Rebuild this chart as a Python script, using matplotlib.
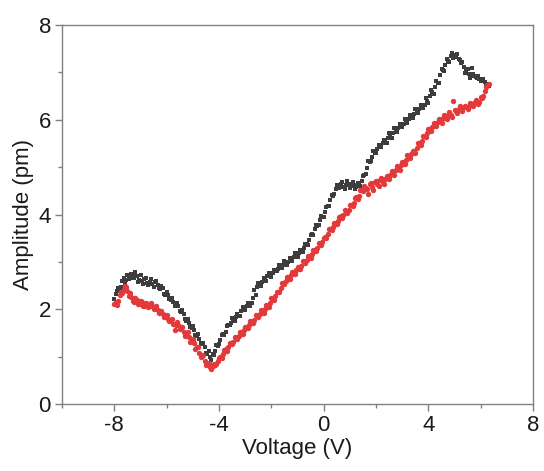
import matplotlib
matplotlib.use("Agg")
import matplotlib.pyplot as plt
from matplotlib.ticker import MultipleLocator

# Voltage sweep (V), first pass
voltage = [-8.0, -7.9, -7.8, -7.7, -7.6, -7.5, -7.4, -7.3, -7.2, -7.1,
           -7.0, -6.9, -6.8, -6.7, -6.6, -6.5, -6.4, -6.3, -6.2, -6.1,
           -6.0, -5.9, -5.8, -5.7, -5.6, -5.5, -5.4, -5.3, -5.2, -5.1,
           -5.0, -4.9, -4.8, -4.7, -4.6, -4.5, -4.4, -4.3, -4.2, -4.1,
           -4.0, -3.9, -3.8, -3.7, -3.6, -3.5, -3.4, -3.3, -3.2, -3.1,
           -3.0, -2.9, -2.8, -2.7, -2.6, -2.5, -2.4, -2.3, -2.2, -2.1,
           -2.0, -1.9, -1.8, -1.7, -1.6, -1.5, -1.4, -1.3, -1.2, -1.1,
           -1.0, -0.9, -0.8, -0.7, -0.6, -0.5, -0.4, -0.3, -0.2, -0.1,
           0.0, 0.1, 0.2, 0.3, 0.4, 0.5, 0.6, 0.7, 0.8, 0.9,
           1.0, 1.1, 1.2, 1.3, 1.4, 1.5, 1.6, 1.7, 1.8, 1.9,
           2.0, 2.1, 2.2, 2.3, 2.4, 2.5, 2.6, 2.7, 2.8, 2.9,
           3.0, 3.1, 3.2, 3.3, 3.4, 3.5, 3.6, 3.7, 3.8, 3.9,
           4.0, 4.1, 4.2, 4.3, 4.4, 4.5, 4.6, 4.7, 4.8, 4.9,
           5.0, 5.1, 5.2, 5.3, 5.4, 5.5, 5.6, 5.7, 5.8, 5.9,
           6.0, 6.1, 6.2, 6.3]

# Voltage sweep (V), second pass
voltage_b = [-7.95, -7.85, -7.75, -7.65, -7.55, -7.45, -7.35, -7.25, -7.15, -7.05,
             -6.95, -6.85, -6.75, -6.65, -6.55, -6.45, -6.35, -6.25, -6.15, -6.05,
             -5.95, -5.85, -5.75, -5.65, -5.55, -5.45, -5.35, -5.25, -5.15, -5.05,
             -4.95, -4.85, -4.75, -4.65, -4.55, -4.45, -4.35, -4.25, -4.15, -4.05,
             -3.95, -3.85, -3.75, -3.65, -3.55, -3.45, -3.35, -3.25, -3.15, -3.05,
             -2.95, -2.85, -2.75, -2.65, -2.55, -2.45, -2.35, -2.25, -2.15, -2.05,
             -1.95, -1.85, -1.75, -1.65, -1.55, -1.45, -1.35, -1.25, -1.15, -1.05,
             -0.95, -0.85, -0.75, -0.65, -0.55, -0.45, -0.35, -0.25, -0.15, -0.05,
             0.05, 0.15, 0.25, 0.35, 0.45, 0.55, 0.65, 0.75, 0.85, 0.95,
             1.05, 1.15, 1.25, 1.35, 1.45, 1.55, 1.65, 1.75, 1.85, 1.95,
             2.05, 2.15, 2.25, 2.35, 2.45, 2.55, 2.65, 2.75, 2.85, 2.95,
             3.05, 3.15, 3.25, 3.35, 3.45, 3.55, 3.65, 3.75, 3.85, 3.95,
             4.05, 4.15, 4.25, 4.35, 4.45, 4.55, 4.65, 4.75, 4.85, 4.95,
             5.05, 5.15, 5.25, 5.35, 5.45, 5.55, 5.65, 5.75, 5.85, 5.95,
             6.05, 6.15, 6.25]

# Amplitude (pm), dark series (squares)
amp_black = [2.22, 2.38, 2.42, 2.60, 2.55, 2.72, 2.66, 2.70, 2.78, 2.58,
             2.72, 2.54, 2.66, 2.52, 2.64, 2.48, 2.60, 2.45, 2.50, 2.33,
             2.36, 2.22, 2.24, 2.06, 2.14, 1.96, 1.98, 1.80, 1.80, 1.62,
             1.64, 1.46, 1.48, 1.28, 1.30, 1.08, 1.12, 0.94, 1.04, 1.24,
             1.26, 1.46, 1.45, 1.64, 1.66, 1.82, 1.76, 1.90, 1.86, 2.04,
             1.98, 2.13, 2.08, 2.24, 2.30, 2.56, 2.50, 2.66, 2.60, 2.76,
             2.68, 2.84, 2.80, 2.94, 2.88, 3.01, 2.94, 3.08, 3.03, 3.18,
             3.10, 3.26, 3.20, 3.38, 3.35, 3.56, 3.57, 3.78, 3.77, 3.96,
             3.95, 4.16, 4.17, 4.41, 4.43, 4.62, 4.55, 4.68, 4.53, 4.70,
             4.56, 4.68, 4.54, 4.67, 4.61, 4.82, 4.85, 5.12, 5.14, 5.34,
             5.30, 5.46, 5.42, 5.58, 5.52, 5.71, 5.62, 5.82, 5.74, 5.91,
             5.85, 6.02, 5.94, 6.11, 6.04, 6.22, 6.14, 6.31, 6.24, 6.45,
             6.36, 6.62, 6.55, 6.82, 6.78, 7.08, 7.02, 7.28, 7.22, 7.40,
             7.32, 7.38, 7.26, 7.22, 6.98, 7.08, 6.88, 6.97, 6.90, 6.92,
             6.82, 6.86, 6.74, 6.72]

amp_black_b = [2.32, 2.44, 2.48, 2.66, 2.62, 2.64, 2.74, 2.66, 2.70, 2.62,
               2.60, 2.64, 2.56, 2.58, 2.54, 2.58, 2.52, 2.42, 2.44, 2.30,
               2.30, 2.20, 2.16, 2.06, 2.08, 1.94, 1.90, 1.76, 1.72, 1.60,
               1.56, 1.44, 1.38, 1.26, 1.20, 1.06, 1.00, 1.06, 1.12, 1.22,
               1.36, 1.48, 1.52, 1.66, 1.72, 1.80, 1.84, 1.86, 1.96, 1.98,
               2.06, 2.12, 2.14, 2.40, 2.48, 2.54, 2.58, 2.62, 2.70, 2.70,
               2.76, 2.82, 2.86, 2.92, 2.94, 2.98, 2.99, 3.06, 3.10, 3.14,
               3.18, 3.22, 3.30, 3.38, 3.46, 3.58, 3.70, 3.76, 3.88, 3.94,
               4.06, 4.18, 4.30, 4.40, 4.54, 4.60, 4.64, 4.58, 4.62, 4.64,
               4.60, 4.62, 4.58, 4.66, 4.70, 4.84, 4.98, 5.10, 5.22, 5.30,
               5.38, 5.42, 5.50, 5.56, 5.62, 5.64, 5.72, 5.78, 5.82, 5.88,
               5.92, 5.98, 6.02, 6.08, 6.12, 6.18, 6.22, 6.28, 6.32, 6.40,
               6.50, 6.58, 6.70, 6.78, 6.94, 7.04, 7.16, 7.24, 7.34, 7.30,
               7.36, 7.28, 7.20, 7.12, 7.02, 6.96, 7.10, 6.92, 6.88, 6.86,
               6.84, 6.80, 6.76]

# Amplitude (pm), red series (circles)
amp_red = [2.12, 2.10, 2.30, 2.34, 2.50, 2.38, 2.34, 2.18, 2.24, 2.12,
           2.18, 2.08, 2.14, 2.04, 2.13, 2.00, 2.07, 1.93, 1.96, 1.83,
           1.88, 1.75, 1.80, 1.57, 1.74, 1.58, 1.63, 1.44, 1.53, 1.32,
           1.37, 1.16, 1.20, 0.99, 1.03, 0.83, 0.87, 0.74, 0.84, 0.84,
           0.98, 0.97, 1.15, 1.13, 1.29, 1.26, 1.41, 1.37, 1.52, 1.47,
           1.63, 1.60, 1.75, 1.71, 1.87, 1.83, 1.98, 1.93, 2.10, 2.05,
           2.23, 2.19, 2.36, 2.37, 2.55, 2.53, 2.69, 2.65, 2.79, 2.75,
           2.90, 2.85, 3.01, 2.97, 3.13, 3.09, 3.25, 3.23, 3.39, 3.35,
           3.51, 3.50, 3.69, 3.67, 3.83, 3.80, 3.95, 3.93, 4.09, 4.03,
           4.20, 4.17, 4.35, 4.33, 4.51, 4.49, 4.56, 4.44, 4.66, 4.52,
           4.70, 4.60, 4.78, 4.64, 4.82, 4.76, 4.92, 4.84, 5.02, 4.94,
           5.10, 5.06, 5.26, 5.19, 5.35, 5.30, 5.50, 5.46, 5.65, 5.64,
           5.81, 5.76, 5.93, 5.86, 6.01, 5.94, 6.09, 6.01, 6.16, 6.06,
           6.20, 6.14, 6.28, 6.18, 6.30, 6.22, 6.36, 6.28, 6.42, 6.34,
           6.48, 6.50, 6.70, 6.76]

amp_red_b = [2.16, 2.18, 2.36, 2.40, 2.48, 2.28, 2.26, 2.16, 2.20, 2.12,
             2.15, 2.06, 2.10, 2.06, 2.08, 2.02, 1.98, 1.96, 1.90, 1.86,
             1.80, 1.78, 1.70, 1.66, 1.66, 1.62, 1.52, 1.46, 1.42, 1.34,
             1.28, 1.20, 1.08, 1.02, 0.92, 0.86, 0.78, 0.80, 0.82, 0.92,
             1.00, 1.06, 1.16, 1.20, 1.28, 1.32, 1.40, 1.44, 1.50, 1.56,
             1.62, 1.66, 1.74, 1.78, 1.86, 1.90, 1.96, 2.00, 2.08, 2.14,
             2.22, 2.28, 2.36, 2.46, 2.56, 2.60, 2.68, 2.72, 2.78, 2.82,
             2.88, 2.92, 3.00, 3.04, 3.12, 3.16, 3.26, 3.30, 3.38, 3.42,
             3.52, 3.58, 3.70, 3.74, 3.82, 3.86, 3.96, 4.00, 4.08, 4.10,
             4.20, 4.24, 4.36, 4.40, 4.52, 4.60, 4.54, 4.64, 4.58, 4.68,
             4.64, 4.72, 4.68, 4.76, 4.78, 4.84, 4.88, 4.94, 4.98, 5.04,
             5.08, 5.16, 5.22, 5.28, 5.34, 5.40, 5.50, 5.56, 5.66, 5.72,
             5.80, 5.84, 5.90, 5.96, 5.98, 6.04, 6.04, 6.10, 6.10, 6.40,
             6.18, 6.22, 6.24, 6.26, 6.26, 6.30, 6.32, 6.36, 6.38, 6.38,
             6.46, 6.60, 6.74]

plt.rcParams['font.family'] = ['Liberation Sans', 'DejaVu Sans']
plt.rcParams['axes.unicode_minus'] = False

fig = plt.figure(figsize=(5.44, 4.71), dpi=100)
ax = fig.add_axes([0.114, 0.142, 0.866, 0.805])

ax.scatter(voltage + voltage_b, amp_black + amp_black_b, marker='s', s=12,
           color='#3d3d3d', linewidths=0, zorder=2)
ax.scatter(voltage + voltage_b, amp_red + amp_red_b, marker='o', s=15,
           color='#e23a3a', linewidths=0, zorder=3)

ax.set_xlim(-10, 8)
ax.set_ylim(0, 8)
ax.xaxis.set_major_locator(MultipleLocator(4))
ax.xaxis.set_minor_locator(MultipleLocator(2))
ax.yaxis.set_major_locator(MultipleLocator(2))
ax.yaxis.set_minor_locator(MultipleLocator(1))

for s in ax.spines.values():
    s.set_color('#808080')
    s.set_linewidth(1.0)

ax.tick_params(which='both', direction='out', color='#808080', width=1.0,
               top=False, right=False, labelsize=16, labelcolor='#1a1a1a')
ax.tick_params(which='major', length=5, pad=3)
ax.tick_params(which='minor', length=3)

ax.set_xlabel("Voltage (V)", fontsize=16, color='#1a1a1a', labelpad=1)
ax.set_ylabel("Amplitude (pm)", fontsize=16, color='#1a1a1a', labelpad=3)

fig.savefig("out.png", dpi=100)
